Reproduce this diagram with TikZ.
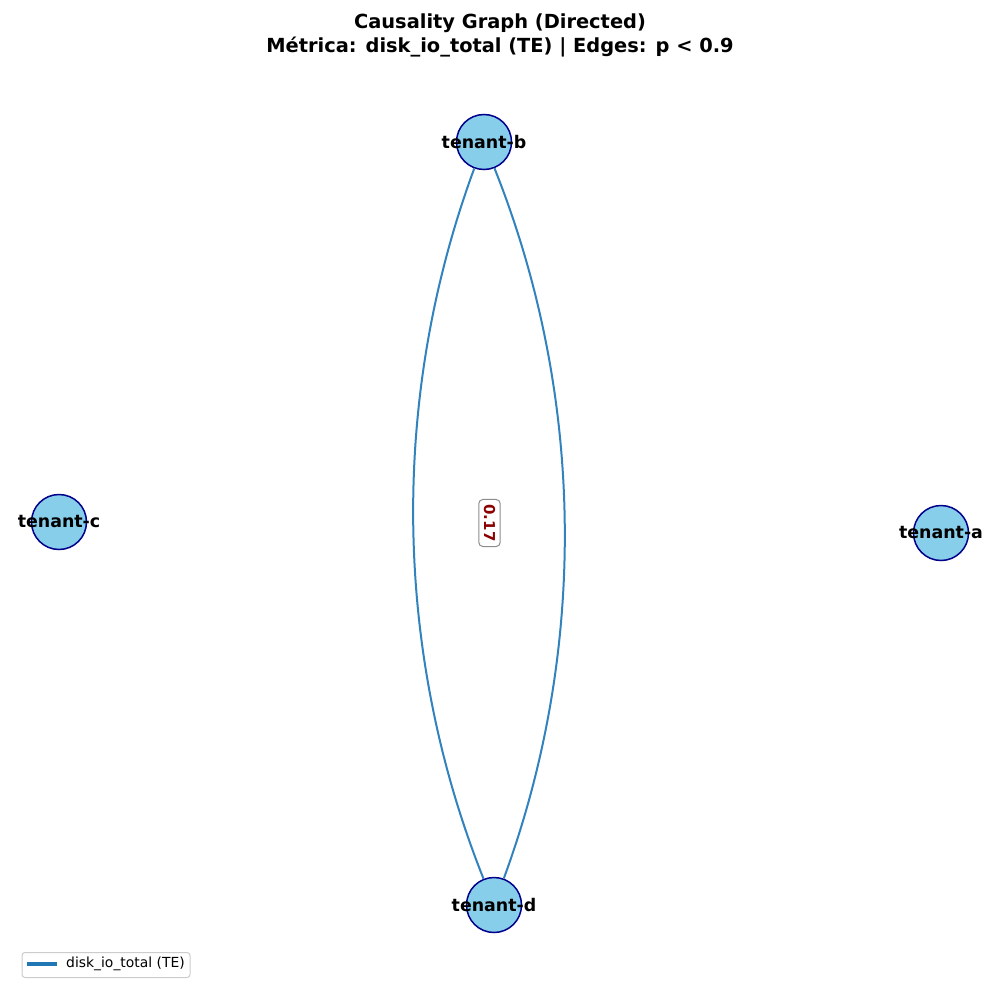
\documentclass[tikz,border=0pt]{standalone}
\usepackage{fontspec}
\setmainfont{DejaVu Sans}
\definecolor{nodeedge}{RGB}{0,0,139}
\definecolor{nodefill}{RGB}{135,206,235}
\definecolor{edgeblue}{RGB}{49,130,189}
\definecolor{boxgrey}{RGB}{140,140,140}
\definecolor{wred}{RGB}{139,0,0}
\definecolor{leggrey}{RGB}{204,204,204}
\definecolor{legblue}{RGB}{31,119,180}
\begin{document}
\begin{tikzpicture}[x=1pt,y=-1pt,
  tenant/.style={circle,draw=nodeedge,fill=nodefill,line width=1.5pt,minimum size=55pt,inner sep=0pt},
  tname/.style={font=\fontsize{17.4}{18}\selectfont\bfseries,text=black},
  causal/.style={draw=edgeblue,line width=2pt},
  weight/.style={draw=boxgrey,fill=white,rounded corners=4pt,line width=1pt,inner xsep=5pt,inner ysep=5pt,text=wred,font=\fontsize{15}{15}\selectfont\bfseries,rotate=-90}
]
\useasboundingbox (0,0) rectangle (1000,1000);
% title
\node (title) at (500,35) [align=center,font=\fontsize{19.4}{24}\selectfont\bfseries] {Causality Graph (Directed)\\Métrica: disk\_io\_total (TE) | Edges: p < 0.9};
% tenants
\node[tenant] (b) at (484,142) {};
\node[tenant] (d) at (494,905) {};
\node[tenant] (c) at (59,522) {};
\node[tenant] (a) at (941,533) {};
% causal edges between b and d
\coordinate (l1) at (389.7,397.7);
\coordinate (l2) at (393,652);
\coordinate (r1) at (585,395);
\coordinate (r2) at (588.2,649.3);
\draw[causal] (b) .. controls (l1) and (l2) .. (d);
\draw[causal] (d) .. controls (r2) and (r1) .. (b);
% tenant labels drawn over the edges
\node[tname] (bl) at (b) {tenant-b};
\node[tname] (dl) at (d) {tenant-d};
\node[tname] (cl) at (c) {tenant-c};
\node[tname] (al) at (a) {tenant-a};
% edge weight
\node[weight] (w) at (489.5,523) {0.17};
% legend
\node[draw=leggrey,fill=white,rounded corners=3pt,line width=1pt,minimum width=168pt,minimum height=25pt] (leg) at (106,965) {};
\coordinate (ls) at (27,964);
\coordinate (le) at (57,964);
\draw[draw=legblue,line width=3.5pt] (ls) -- (le);
\node[anchor=west,font=\fontsize{13.9}{15}\selectfont,inner sep=0pt] (legtext) at (66,964) {disk\_io\_total (TE)};
\end{tikzpicture}
\end{document}
